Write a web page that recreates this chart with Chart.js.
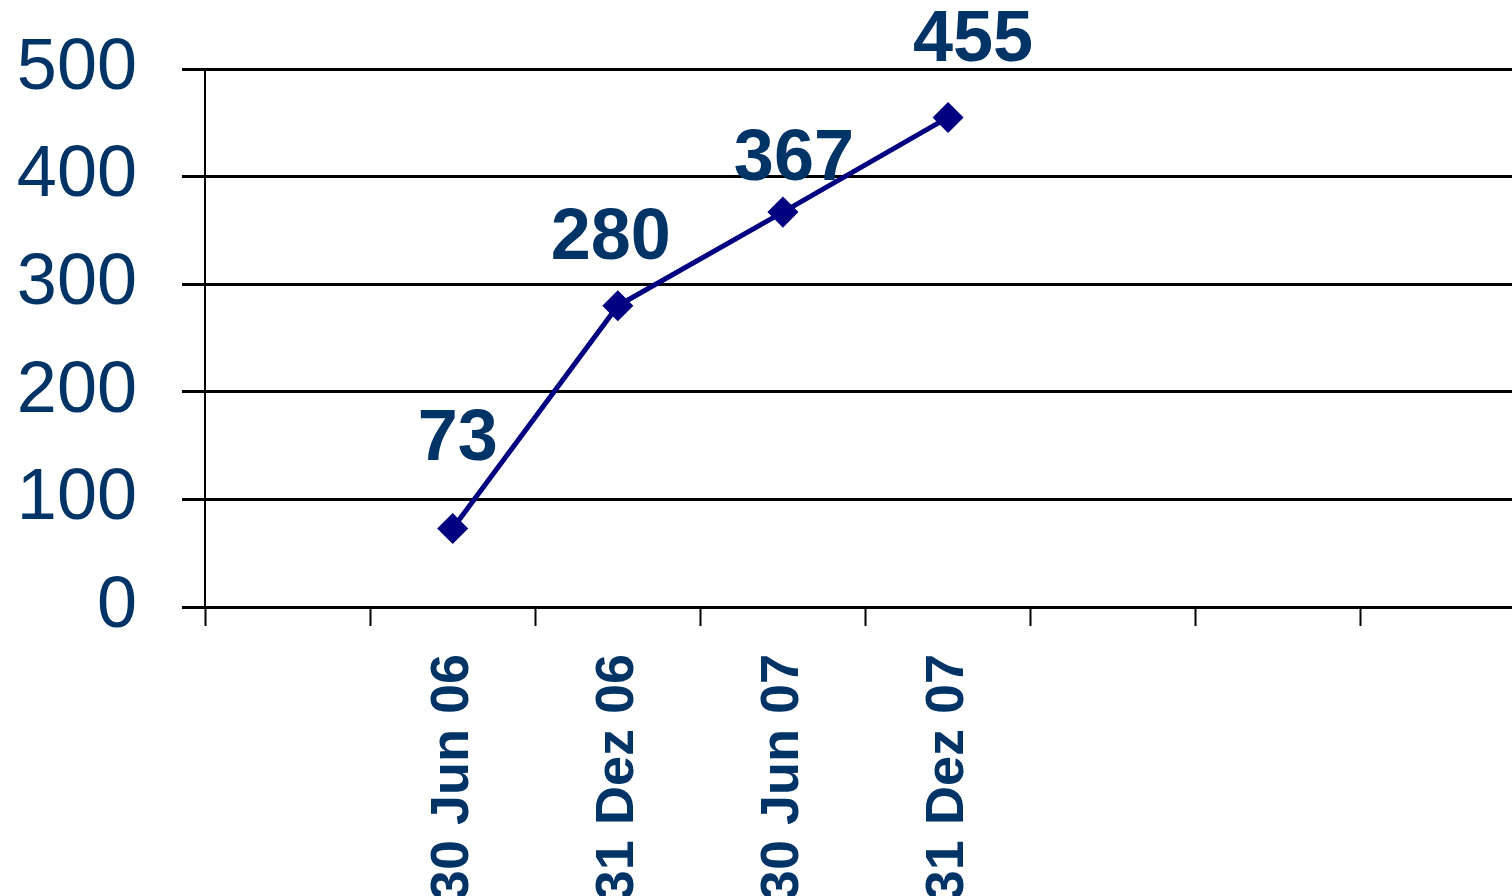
<!DOCTYPE html>
<html>
<head>
<meta charset="utf-8">
<script src="https://cdn.jsdelivr.net/npm/chart.js@4/dist/chart.umd.min.js"></script>
<style>
html,body{margin:0;padding:0;background:#fff;overflow:hidden;width:1512px;height:896px;}
canvas{display:block;}
</style>
</head>
<body>
<canvas id="c" width="1526" height="896" style="width:1526px;height:896px;"></canvas>
<script>
const categories = ['', '30 Jun 06', '31 Dez 06', '30 Jun 07', '31 Dez 07', '', '', ''];
const values = [null, 73, 280, 367, 455, null, null, null];
const yTicks = [0, 100, 200, 300, 400, 500];

const TEXT = '#003366';
const LINE = '#000080';
const FONT = "'Liberation Sans', Arial, sans-serif";

const valueLabels = {
  id: 'valueLabels',
  afterDatasetsDraw(chart, args, opts) {
    const meta = chart.getDatasetMeta(0);
    const ctx = chart.ctx;
    const offs = opts.offsets || [];
    ctx.save();
    ctx.fillStyle = TEXT;
    ctx.font = "bold 72px " + FONT;
    ctx.textAlign = 'center';
    ctx.textBaseline = 'middle';
    meta.data.forEach((el, i) => {
      const v = values[i];
      if (v === null || v === undefined) return;
      const o = offs[i] || [0, -70];
      ctx.fillText(String(v), el.x + o[0], el.y + o[1]);
    });
    ctx.restore();
  }
};

new Chart(document.getElementById('c'), {
  type: 'line',
  data: {
    labels: categories,
    datasets: [{
      data: values,
      borderColor: LINE,
      backgroundColor: LINE,
      borderWidth: 5,
      pointStyle: 'rectRot',
      pointRadius: 12,
      pointBackgroundColor: LINE,
      pointBorderColor: LINE,
      spanGaps: false,
      tension: 0
    }]
  },
  options: {
    responsive: false,
    devicePixelRatio: 1,
    animation: false,
    layout: { autoPadding: false, padding: { top: 69, right: 0, left: 0, bottom: 0 } },
    plugins: {
      legend: { display: false },
      tooltip: { enabled: false },
      valueLabels: { offsets: [null, [5, -88], [-7, -67], [11, -52], [25, -76]] }
    },
    scales: {
      x: {
        type: 'category',
        offset: true,
        afterFit(s) { s.height = 289; s.paddingRight = 0; s.paddingLeft = 0; },
        grid: {
          offset: true,
          drawOnChartArea: false,
          drawTicks: true,
          tickLength: 19,
          tickWidth: 2,
          tickColor: '#000'
        },
        border: { display: true, color: '#000', width: 3 },
        ticks: {
          autoSkip: false,
          minRotation: 90,
          maxRotation: 90,
          padding: 28,
          color: TEXT,
          font: { family: FONT, size: 54, weight: 'bold', lineHeight: 0.5 }
        }
      },
      y: {
        min: 0,
        max: 500,
        afterFit(s) { s.width = 205; },
        afterBuildTicks(s) { s.ticks = yTicks.map(v => ({ value: v })); },
        grid: {
          color: '#000',
          lineWidth: 3,
          drawTicks: true,
          tickLength: 23,
          tickColor: '#000'
        },
        border: { display: true, color: '#000', width: 2 },
        ticks: {
          padding: 45,
          color: TEXT,
          font: { family: FONT, size: 72, lineHeight: 0.6 }
        }
      }
    }
  },
  plugins: [valueLabels]
});
</script>
</body>
</html>
